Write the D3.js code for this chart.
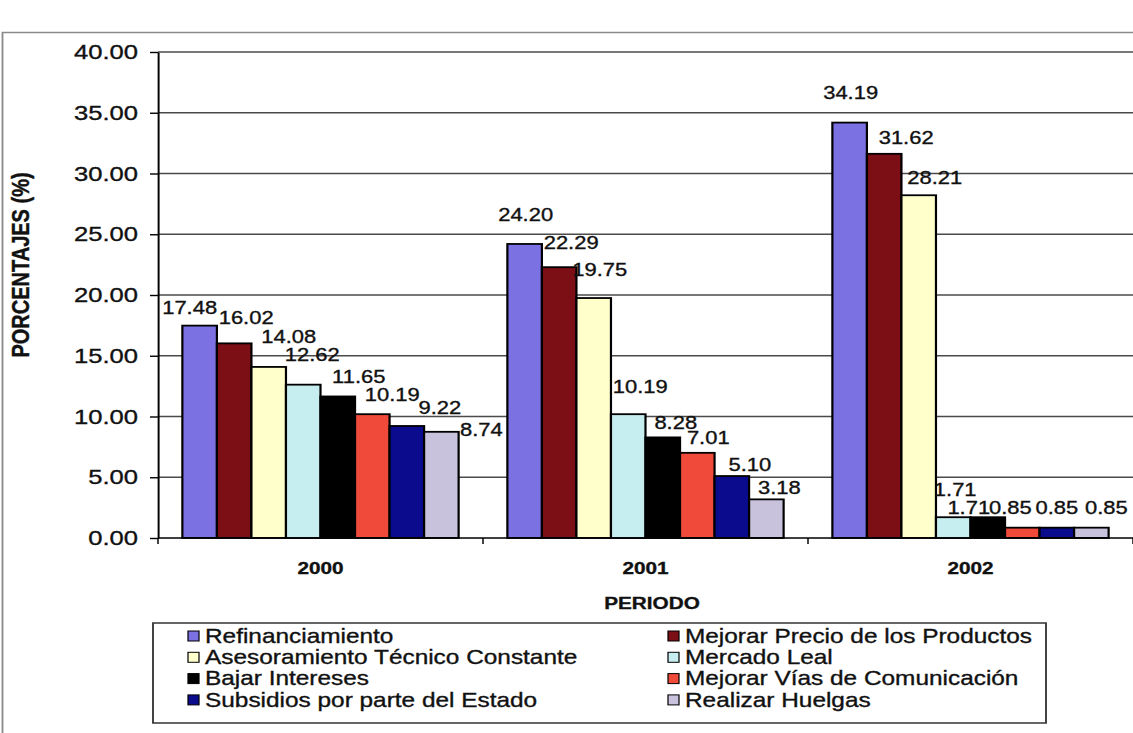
<!DOCTYPE html>
<html>
<head>
<meta charset="utf-8">
<script src="https://cdn.jsdelivr.net/npm/d3@7/dist/d3.min.js"></script>
<style>
  html, body { margin: 0; padding: 0; background: #fff; }
  svg { display: block; font-family: "Liberation Sans", Arial, sans-serif; }
  text { stroke: #111; stroke-width: 0.35px; paint-order: stroke; }
</style>
</head>
<body>
<svg id="chart" width="1133" height="733"></svg>
<script>
// Periods on the horizontal axis
const periods = ["2000", "2001", "2002"];

// Requested supports (legend order)
const seriesNames = [
  "Refinanciamiento",
  "Mejorar Precio de los Productos",
  "Asesoramiento Técnico Constante",
  "Mercado Leal",
  "Bajar Intereses",
  "Mejorar Vías de Comunicación",
  "Subsidios por parte del Estado",
  "Realizar Huelgas"
];

// Percentages per series, one value per period
const refinanciamiento = [17.48, 24.20, 34.19];
const mejorarPrecio    = [16.02, 22.29, 31.62];
const asesoramiento    = [14.08, 19.75, 28.21];
const mercadoLeal      = [12.62, 10.19, 1.71];
const bajarIntereses   = [11.65, 8.28, 1.71];
const mejorarVias      = [10.19, 7.01, 0.85];
const subsidios        = [9.22, 5.10, 0.85];
const realizarHuelgas  = [8.74, 3.18, 0.85];

const seriesValues = [refinanciamiento, mejorarPrecio, asesoramiento, mercadoLeal,
                      bajarIntereses, mejorarVias, subsidios, realizarHuelgas];

// Y axis tick values
const yTicks = [0, 5, 10, 15, 20, 25, 30, 35, 40];

// Fill colours, same order as the series
const colors = ["#7b71e2", "#7c0e16", "#ffffcc", "#c6eef0",
                "#000000", "#ef4a3a", "#0b0b8e", "#c9c2dd"];

// Hand-placed nudges for the value labels, [dx, dy] in pixels per period / series
const labelNudge = [
  [[-10, -3], [12, -11], [20, -15], [9, -15], [21, -5], [20, -4], [33, -3], [40, 13]],
  [[1, -14], [12, -9], [6, -13], [12, -12], [13, 0], [11, 0], [18, 4], [13, 3]],
  [[1, -15], [22, -1], [16, -3], [2, -12], [-19, 6], [-12, -5], [0, -5], [15, -5]]
];

// The whole drawing is widened horizontally by this factor
const SX = 1.22;
const X = px => px / SX;

const svg = d3.select("#chart");
const root = svg.append("g").attr("transform", `scale(${SX},1)`);

// Outer chart frame
root.append("rect")
  .attr("x", X(2.5)).attr("y", 32.5)
  .attr("width", X(1140)).attr("height", 720)
  .attr("fill", "none").attr("stroke", "#8a8a8a").attr("stroke-width", 1.5);

const yTop = 52, yBase = 538;
const y = d3.scaleLinear().domain([0, 40]).range([yBase, yTop]);

const x0 = d3.scaleBand().domain(periods)
  .range([X(158), X(1133)])
  .paddingInner(0.15).paddingOuter(0.075);

const x1 = d3.scaleBand().domain(d3.range(seriesNames.length))
  .range([0, x0.bandwidth()]).padding(0);

// Horizontal gridlines
root.append("g").selectAll("line")
  .data(yTicks.filter(t => t > 0))
  .join("line")
  .attr("x1", X(158)).attr("x2", X(1140))
  .attr("y1", d => y(d)).attr("y2", d => y(d))
  .attr("stroke", "#4a4a4a").attr("stroke-width", 1.6);

// Bars
const groups = root.append("g").selectAll("g")
  .data(periods)
  .join("g")
  .attr("transform", d => `translate(${x0(d)},0)`);

groups.selectAll("rect")
  .data((p, pi) => seriesValues.map((vals, si) => ({ si, pi, v: vals[pi] })))
  .join("rect")
  .attr("x", d => x1(d.si))
  .attr("width", x1.bandwidth())
  .attr("y", d => y(d.v))
  .attr("height", d => y(0) - y(d.v))
  .attr("fill", d => colors[d.si])
  .attr("stroke", "#000").attr("stroke-width", 1.8);

// Value labels
groups.selectAll("text")
  .data((p, pi) => seriesValues.map((vals, si) => ({ si, pi, v: vals[pi] })))
  .join("text")
  .attr("x", d => x1(d.si) + x1.bandwidth() / 2 + X(labelNudge[d.pi][d.si][0]))
  .attr("y", d => y(d.v) - 15 + labelNudge[d.pi][d.si][1])
  .attr("text-anchor", "middle")
  .attr("dominant-baseline", "central")
  .attr("font-size", 18)
  .attr("fill", "#111")
  .text(d => d.v.toFixed(2));

// Y axis
const yAxis = root.append("g")
  .attr("transform", `translate(${X(158)},0)`)
  .call(d3.axisLeft(y).tickValues(yTicks).tickFormat(d3.format(".2f"))
        .tickSize(X(8)).tickSizeOuter(0).tickPadding(X(12)));
yAxis.select(".domain").attr("stroke", "#000").attr("stroke-width", 1.6);
yAxis.selectAll(".tick line").attr("stroke", "#000").attr("stroke-width", 1.4);
yAxis.selectAll(".tick text")
  .attr("font-size", 21).attr("fill", "#111")
  .attr("font-family", "\"Liberation Sans\", Arial, sans-serif");

// X axis
const xAxis = root.append("g")
  .attr("transform", `translate(0,${yBase})`)
  .call(d3.axisBottom(x0).tickSize(0).tickPadding(24));
xAxis.select(".domain").attr("stroke", "#000").attr("stroke-width", 1.6)
  .attr("d", `M${X(158)},0H${X(1140)}`);
xAxis.selectAll(".tick text")
  .attr("font-size", 17).attr("font-weight", "bold").attr("fill", "#111")
  .attr("font-family", "\"Liberation Sans\", Arial, sans-serif");

// Small separators between periods under the axis
const seps = periods.map(p => x0(p) - x0.step() * x0.paddingInner() / 2).concat([X(1133)]);
root.append("g").selectAll("line")
  .data(seps)
  .join("line")
  .attr("x1", d => d).attr("x2", d => d)
  .attr("y1", yBase).attr("y2", yBase + 6)
  .attr("stroke", "#000").attr("stroke-width", 1.2);

// Axis titles
root.append("text")
  .attr("x", X(652)).attr("y", 603)
  .attr("text-anchor", "middle").attr("dominant-baseline", "central")
  .attr("font-size", 17).attr("font-weight", "bold").attr("fill", "#111")
  .text("PERIODO");

root.append("text")
  .attr("transform", `translate(${X(21)},265) rotate(-90)`)
  .attr("text-anchor", "middle").attr("dominant-baseline", "central")
  .attr("font-size", 20).attr("font-weight", "bold").attr("fill", "#111")
  .text("PORCENTAJES (%)");

// Legend
const legX = 153, legY = 623, legW = 893, legH = 100;
root.append("rect")
  .attr("x", X(legX)).attr("y", legY).attr("width", X(legW)).attr("height", legH)
  .attr("fill", "#fff").attr("stroke", "#333").attr("stroke-width", 1.5);

const legendItems = root.append("g").selectAll("g")
  .data(seriesNames)
  .join("g")
  .attr("transform", (d, i) => {
    const col = i % 2, row = Math.floor(i / 2);
    return `translate(${X(col === 0 ? 188 : 668)},${636 + row * 21.3})`;
  });

legendItems.append("rect")
  .attr("x", 0).attr("y", -5).attr("width", X(11)).attr("height", 10)
  .attr("fill", (d, i) => colors[i])
  .attr("stroke", "#000").attr("stroke-width", 1);

legendItems.append("text")
  .attr("x", X(17)).attr("y", 0)
  .attr("dominant-baseline", "central")
  .attr("font-size", 20).attr("fill", "#111")
  .text(d => d);
</script>
</body>
</html>
